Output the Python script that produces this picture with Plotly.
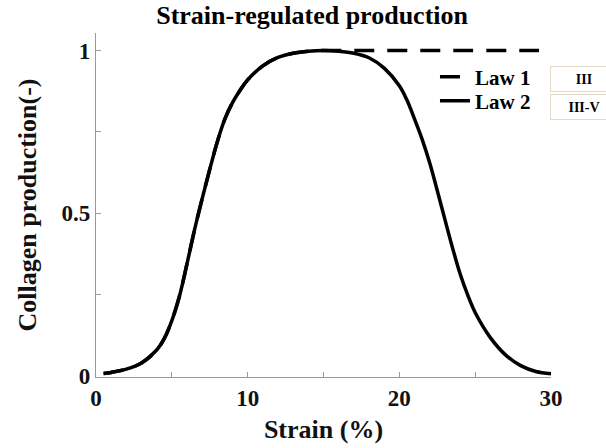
import plotly.graph_objects as go

# Strain (%) sample points and collagen production values
strain = [0.5, 1, 2, 3, 4, 4.5, 5, 5.5, 6, 6.5, 7, 7.5, 8, 8.5, 9, 9.5, 10, 11, 12, 13, 14, 15,
          16, 17, 18, 19, 20, 20.5, 21, 21.5, 22, 22.5, 23, 23.5, 24, 24.5, 25, 26, 27, 28, 29, 30]
law2 = [0.008, 0.011, 0.021, 0.04, 0.08, 0.115, 0.17, 0.245, 0.345, 0.45, 0.545, 0.635, 0.72,
        0.79, 0.84, 0.878, 0.91, 0.953, 0.979, 0.992, 0.998, 1.0,
        0.998, 0.992, 0.978, 0.946, 0.892, 0.848, 0.79, 0.728, 0.655, 0.57, 0.482, 0.395,
        0.315, 0.25, 0.195, 0.118, 0.065, 0.032, 0.014, 0.007]
law1 = [0.008, 0.011, 0.021, 0.04, 0.08, 0.115, 0.17, 0.245, 0.345, 0.45, 0.545, 0.635, 0.72,
        0.79, 0.84, 0.878, 0.91, 0.953, 0.979, 0.992, 0.998, 1.0,
        1.0, 1.0, 1.0, 1.0, 1.0, 1.0, 1.0, 1.0, 1.0, 1.0, 1.0, 1.0,
        1.0, 1.0, 1.0, 1.0, 1.0, 1.0, 1.0, 1.0]

series_names = ["Law 1", "Law 2"]
box_labels = ["III", "III-V"]

x_tickvals = [0, 5, 10, 15, 20, 25, 30]
x_ticktext = ["0", "", "10", "", "20", "", "30"]
y_tickvals = [0, 0.25, 0.5, 0.75, 1]
y_ticktext = ["0", "", "0.5", "", "1"]

FONT = "Liberation Serif"
AXC = "#9a9a9a"

fig = go.Figure()
fig.add_trace(go.Scatter(
    x=strain, y=law1, mode="lines", name=series_names[0], legend="legend", showlegend=True,
    line=dict(color="black", width=3.5, dash="20px,13px", shape="spline", smoothing=1.0),
))
fig.add_trace(go.Scatter(
    x=strain, y=law2, mode="lines", name=series_names[1], legend="legend2", showlegend=True,
    line=dict(color="black", width=3.5, shape="spline", smoothing=1.0),
))

legend_common = dict(
    xanchor="left", yanchor="middle", x=0.745, visible=True,
    font=dict(family=FONT, size=21, color="black", weight="bold"),
    bgcolor="rgba(0,0,0,0)", borderwidth=0,
)

fig.update_layout(
    width=606, height=448,
    showlegend=True,
    margin=dict(l=96, r=55, t=33, b=71),
    paper_bgcolor="white", plot_bgcolor="white",
    title=dict(
        text="Strain-regulated production", x=0.515, xanchor="center",
        y=1 - 15 / 448, yanchor="middle", yref="container", automargin=False,
        font=dict(family=FONT, size=26, color="black", weight="bold"),
    ),
    legend=dict(y=(377 - 77) / 344, **legend_common),
    legend2=dict(y=(377 - 101) / 344, **legend_common),
    xaxis=dict(
        range=[0, 30], showgrid=False, zeroline=False, showline=True, automargin=False,
        linecolor=AXC, linewidth=1.3, ticks="inside", tickcolor=AXC, ticklen=5,
        tickmode="array", tickvals=x_tickvals, ticktext=x_ticktext, ticklabelstandoff=0,
        tickfont=dict(family=FONT, size=23, color="#111", weight="bold"),
        title=dict(text="Strain (%)", standoff=10,
                   font=dict(family=FONT, size=26, color="#111", weight="bold")),
    ),
    yaxis=dict(
        range=[-0.003, 1.054], showgrid=False, zeroline=False, showline=True, automargin=False,
        linecolor=AXC, linewidth=1.3, ticks="inside", tickcolor=AXC, ticklen=5,
        tickmode="array", tickvals=y_tickvals, ticktext=y_ticktext,
        tickfont=dict(family=FONT, size=23, color="#111", weight="bold"),
        title=dict(text="Collagen production(-)", standoff=17,
                   font=dict(family=FONT, size=26, color="#111", weight="bold")),
    ),
)

for label, yc in zip(box_labels, [(377 - 78.5) / 344, (377 - 107) / 344]):
    fig.add_annotation(
        text=label, xref="paper", yref="paper", x=(550 - 96) / 455, y=yc,
        xanchor="left", yanchor="middle", showarrow=False,
        width=62, height=20, align="center", borderpad=2, borderwidth=1,
        bordercolor="#e3dac6", bgcolor="white",
        font=dict(family=FONT, size=14, color="black", weight="bold"),
    )

fig.write_html("out.html")
